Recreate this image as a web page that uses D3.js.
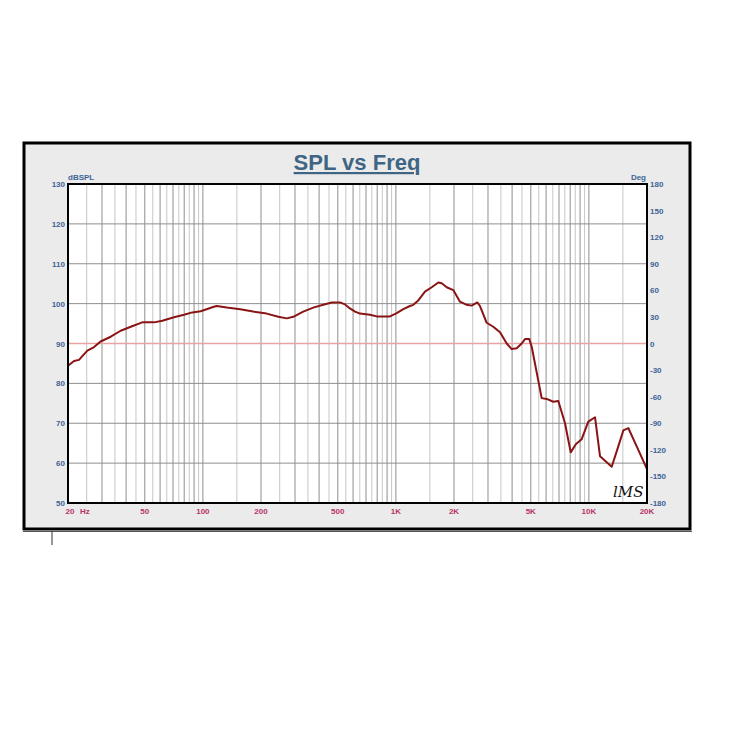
<!DOCTYPE html>
<html>
<head>
<meta charset="utf-8">
<script src="https://cdnjs.cloudflare.com/ajax/libs/d3/7.8.5/d3.min.js"></script>
<style>
    body { margin: 0; background: #fff; }
    svg text { font-family: "Liberation Sans", Arial, sans-serif; }
</style>
</head>
<body>
<svg id="chart" width="738" height="748"></svg>
<script>
const freqHz = [20, 21.5, 22.8, 23.6, 25.2, 27.3, 29.5, 33.3, 37.5, 42.3,
    48.5, 55.8, 61.6, 70.8, 79.8, 88.1, 97.4, 114, 118, 133,
    156, 182, 214, 246, 272, 294, 331, 373, 420, 465,
    513, 545, 578, 614, 652, 734, 795, 932, 1010, 1092,
    1183, 1231, 1306, 1415, 1533, 1659, 1727, 1833, 1983, 2148,
    2328, 2470, 2640, 2727, 2954, 3195, 3462, 3751, 3981, 4227,
    4485, 4666, 4912, 5054, 5694, 6044, 6538, 6942, 7520, 8050,
    8575, 9177, 9930, 10760, 11420, 13130, 14200, 15080, 16000, 17690, 20000]
const splDb = [84.4, 85.6, 85.9, 86.7, 88.2, 89.1, 90.5, 91.7, 93.2, 94.2,
    95.3, 95.3, 95.7, 96.6, 97.2, 97.8, 98.1, 99.2, 99.4, 99.0,
    98.6, 98.0, 97.5, 96.7, 96.3, 96.7, 98.0, 99.0, 99.7, 100.3,
    100.3, 99.8, 98.8, 98.0, 97.5, 97.2, 96.8, 96.8, 97.6, 98.6,
    99.4, 99.7, 100.8, 103.0, 104.1, 105.3, 105.1, 104.1, 103.4, 100.5,
    99.7, 99.5, 100.3, 99.4, 95.2, 94.2, 92.8, 90.0, 88.6, 88.8,
    90.0, 91.1, 91.1, 89.2, 76.3, 76.1, 75.4, 75.6, 70.0, 62.7,
    64.8, 66.0, 70.4, 71.5, 61.7, 59.1, 64.2, 68.2, 68.8, 64.2, 58.5]

const splTicks = [50, 60, 70, 80, 90, 100, 110, 120, 130]
const degTicks = [-180, -150, -120, -90, -60, -30, 0, 30, 60, 90, 120, 150, 180]
const freqTicks = [20, 50, 100, 200, 500, 1000, 2000, 5000, 10000, 20000]
const freqLabels = ["20", "50", "100", "200", "500", "1K", "2K", "5K", "10K", "20K"]
const refLevel = 90

const svg = d3.select("#chart")
const plot = {left: 68, top: 184, right: 647, bottom: 503}

// outer panel
svg.append("rect")
    .attr("x", 24).attr("y", 143)
    .attr("width", 666).attr("height", 386)
    .attr("fill", "#ebebeb")
    .attr("stroke", "#000")
    .attr("stroke-width", 3)
svg.append("line")
    .attr("x1", 23).attr("x2", 692).attr("y1", 531.5).attr("y2", 531.5)
    .attr("stroke", "#555").attr("stroke-width", 1)
svg.append("line")
    .attr("x1", 52).attr("x2", 52).attr("y1", 531).attr("y2", 545)
    .attr("stroke", "#333").attr("stroke-width", 1)

// title
svg.append("text")
    .attr("x", 357).attr("y", 170)
    .attr("text-anchor", "middle")
    .attr("font-size", 22)
    .attr("font-weight", "bold")
    .attr("fill", "#3f6585")
    .attr("text-decoration", "underline")
    .text("SPL vs Freq")

const x = d3.scaleLog().domain([20, 20000]).range([plot.left, plot.right])
const y = d3.scaleLinear().domain([50, 130]).range([plot.bottom, plot.top])
const yDeg = d3.scaleLinear().domain([-180, 180]).range([plot.bottom, plot.top])

svg.append("rect")
    .attr("x", plot.left).attr("y", plot.top)
    .attr("width", plot.right - plot.left).attr("height", plot.bottom - plot.top)
    .attr("fill", "#fff")

// vertical grid: whole multiples darker, half steps lighter
let grid = []
for (let dec of [10, 100, 1000, 10000]) {
    for (let m = 1; m < 10; m += 0.5) {
        let f = dec * m
        if (f > 20 && f < 20000) grid.push({f: f, major: m % 1 === 0})
    }
}
svg.append("g").selectAll("line")
    .data(grid)
    .join("line")
    .attr("x1", d => x(d.f)).attr("x2", d => x(d.f))
    .attr("y1", plot.top).attr("y2", plot.bottom)
    .attr("stroke", d => d.major ? "#8e8e8e" : "#c6c6c6")
    .attr("stroke-width", 1)

svg.append("g").selectAll("line")
    .data(splTicks.slice(1, -1))
    .join("line")
    .attr("x1", plot.left).attr("x2", plot.right)
    .attr("y1", d => y(d)).attr("y2", d => y(d))
    .attr("stroke", d => d === refLevel ? "#e8a4a4" : "#8e8e8e")
    .attr("stroke-width", d => d === refLevel ? 1.5 : 1)

// response curve
const line = d3.line()
    .x((d, i) => x(freqHz[i]))
    .y(d => y(d))
svg.append("path")
    .datum(splDb)
    .attr("d", line)
    .attr("fill", "none")
    .attr("stroke", "#8a1414")
    .attr("stroke-width", 2)
    .attr("stroke-linejoin", "round")

svg.append("rect")
    .attr("x", plot.left).attr("y", plot.top)
    .attr("width", plot.right - plot.left).attr("height", plot.bottom - plot.top)
    .attr("fill", "none")
    .attr("stroke", "#000")
    .attr("stroke-width", 2)

// axis labels
const blue = "#3d6497", red = "#b83468"
svg.append("g").selectAll("text")
    .data(splTicks)
    .join("text")
    .attr("x", plot.left - 3).attr("y", d => y(d) + 3)
    .attr("text-anchor", "end")
    .attr("font-size", 8).attr("font-weight", "bold").attr("fill", blue)
    .text(d => d)

svg.append("g").selectAll("text")
    .data(degTicks)
    .join("text")
    .attr("x", plot.right + 3).attr("y", d => yDeg(d) + 3)
    .attr("font-size", 8).attr("font-weight", "bold").attr("fill", blue)
    .text(d => d)

svg.append("g").selectAll("text")
    .data(freqTicks)
    .join("text")
    .attr("x", d => d === 20 ? x(d) + 2 : x(d))
    .attr("y", plot.bottom + 11)
    .attr("text-anchor", "middle")
    .attr("font-size", 8).attr("font-weight", "bold").attr("fill", red)
    .text((d, i) => freqLabels[i])

svg.append("text")
    .attr("x", 80).attr("y", plot.bottom + 11)
    .attr("font-size", 8).attr("font-weight", "bold").attr("fill", red)
    .text("Hz")

svg.append("text")
    .attr("x", plot.left).attr("y", plot.top - 4)
    .attr("font-size", 8).attr("font-weight", "bold").attr("fill", blue)
    .text("dBSPL")

svg.append("text")
    .attr("x", plot.right - 1).attr("y", plot.top - 4)
    .attr("text-anchor", "end")
    .attr("font-size", 8).attr("font-weight", "bold").attr("fill", blue)
    .text("Deg")

// LMS mark
svg.append("text")
    .attr("x", 613).attr("y", 497)
    .attr("font-size", 15)
    .attr("font-style", "italic")
    .attr("fill", "#111")
    .style("font-family", "'DejaVu Serif', serif")
    .text("lMS")
</script>
</body>
</html>
